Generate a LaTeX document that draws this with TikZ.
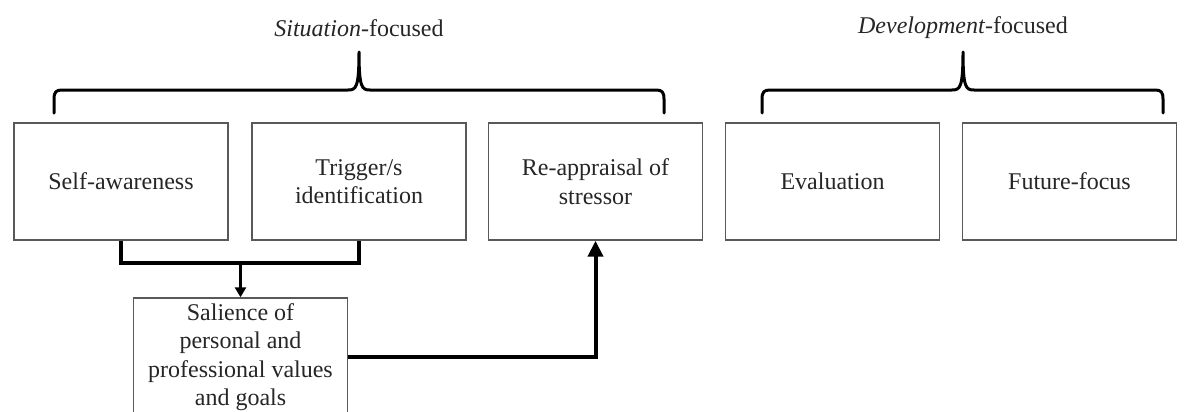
\documentclass[tikz,border=0pt]{standalone}
\usepackage{fontspec}
\setmainfont{Liberation Serif}
\usetikzlibrary{arrows.meta}
\begin{document}
\begin{tikzpicture}[x=0.5pt,y=-0.5pt,
  every node/.style={font=\fontsize{12}{14.2}\selectfont, text=black!85},
  stagebox/.style={draw=black!65, line width=0.7pt, minimum width=107pt, minimum height=58.5pt, align=center, inner sep=2pt},
  heading/.style={inner sep=0pt},
  bracket/.style={line width=1.5pt, line cap=round, line join=round},
  feed/.style={line width=2pt},
  link/.style={line width=1.3pt, -{Triangle[length=5pt,width=5.5pt]}},
  boldlink/.style={line width=2pt, -{Triangle[length=8pt,width=7.5pt]}}]
\useasboundingbox (0,0) rectangle (1184,412);
\clip (0,0) rectangle (1184,412);

% group headings
\node[heading] (sit) at (359,28) {\textit{Situation}-focused};
\node[heading] (dev) at (963,28) {\textit{Development}-focused};

% stage boxes
\node[stagebox] (sa) at (121,181.5) {Self-awareness};
\node[stagebox] (tr) at (359,181.5) {Trigger/s\\identification};
\node[stagebox] (ra) at (595.5,181.5) {Re-appraisal of\\stressor};
\node[stagebox] (ev) at (832.5,181.5) {Evaluation};
\node[stagebox] (ff) at (1069.5,181.5) {Future-focus};
\node[stagebox, minimum height=59pt] (sal) at (240.5,357) {Salience of\\personal and\\professional values\\and goals};

% curly brackets grouping the stages
\draw[bracket] (54,113) -- (54,99) .. controls (54,92) and (56,90) .. (62,90)
  -- (348,90) .. controls (356,90) and (359,88) .. (359,52)
  .. controls (359,88) and (362,90) .. (370,90)
  -- (656,90) .. controls (662,90) and (664,92) .. (664,99) -- (664,113);
\draw[bracket] (762,113) -- (762,99) .. controls (762,92) and (764,90) .. (770,90)
  -- (952,90) .. controls (960,90) and (963,88) .. (963,52)
  .. controls (963,88) and (966,90) .. (974,90)
  -- (1155,90) .. controls (1161,90) and (1163,92) .. (1163,99) -- (1163,113);

% connectors
\coordinate (join) at (240.5,263);
\draw[feed] (sa.south) |- (join) -| (tr.south);
\draw[link] (join) -- (sal.north);
\draw[boldlink] (sal.east) -| (ra.south);
\end{tikzpicture}
\end{document}
